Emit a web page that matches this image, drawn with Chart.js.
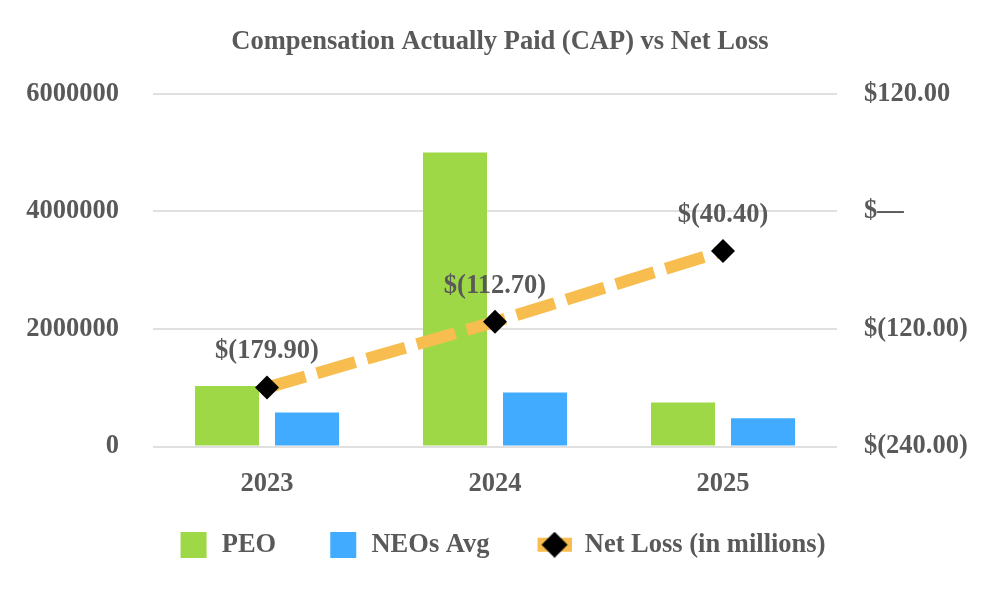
<!DOCTYPE html>
<html>
<head>
<meta charset="utf-8">
<script src="https://cdn.jsdelivr.net/npm/chart.js@4/dist/chart.umd.min.js"></script>
<style>
  html, body { margin: 0; padding: 0; background: #fff; }
  #wrap { width: 1000px; height: 600px; }
</style>
</head>
<body>
<div id="wrap"><canvas id="capChart"></canvas></div>
<script>
// chart values
const years = ["2023", "2024", "2025"];
const peoCap = [1030000, 5000000, 750000];
const neoAvgCap = [580000, 920000, 480000];
const netLoss = [-179.9, -112.7, -40.4];
const seriesNames = ["PEO", "NEOs Avg", "Net Loss (in millions)"];

const GREEN = "#9ed846";
const BLUE = "#41acff";
const ORANGE = "#f8bd4f";
const TEXT = "#595959";
const FONT = "'Liberation Serif', 'Times New Roman', serif";

function money(v) {
  if (v === 0) return "$\u2014";
  const s = Math.abs(v).toFixed(2);
  return v < 0 ? "$(" + s + ")" : "$" + s;
}

// legend swatches as small canvases (transparent left part gives the item spacing)
function swatch(color) {
  const c = document.createElement("canvas");
  c.width = 54; c.height = 26;
  const g = c.getContext("2d");
  g.fillStyle = color;
  g.fillRect(26, 0, 26, 26);
  return c;
}
function lineSwatch() {
  const c = document.createElement("canvas");
  c.width = 54; c.height = 26;
  const g = c.getContext("2d");
  g.fillStyle = ORANGE;
  g.fillRect(20, 6, 34, 14);
  g.fillStyle = "#000";
  g.beginPath();
  g.moveTo(37, 0); g.lineTo(50, 13); g.lineTo(37, 26); g.lineTo(24, 13);
  g.closePath();
  g.fill();
  return c;
}
const legendIcons = [swatch(GREEN), swatch(BLUE), lineSwatch()];

// value labels above the net loss markers, and a small legend nudge
const pointLabels = {
  id: "pointLabels",
  afterLayout(chart) {
    chart.legend.left -= 10;
    chart.legend.right -= 10;
  },
  afterDatasetsDraw(chart) {
    const meta = chart.getDatasetMeta(2);
    const ctx = chart.ctx;
    ctx.save();
    ctx.font = "bold 26.5px " + FONT;
    ctx.fillStyle = TEXT;
    ctx.textAlign = "center";
    ctx.textBaseline = "middle";
    meta.data.forEach((pt, i) => {
      ctx.fillText(money(netLoss[i]), pt.x, pt.y - 36);
    });
    ctx.restore();
  }
};

Chart.defaults.font.family = FONT;
Chart.defaults.font.size = 26.5;
Chart.defaults.font.weight = "bold";
Chart.defaults.color = TEXT;

const ctx = document.getElementById("capChart").getContext("2d");
new Chart(ctx, {
  data: {
    labels: years,
    datasets: [
      {
        type: "bar",
        label: seriesNames[0],
        data: peoCap,
        backgroundColor: GREEN,
        yAxisID: "y",
        order: 1,
        barPercentage: 0.8,
        categoryPercentage: 0.702,
      },
      {
        type: "bar",
        label: seriesNames[1],
        data: neoAvgCap,
        backgroundColor: BLUE,
        yAxisID: "y",
        order: 1,
        barPercentage: 0.8,
        categoryPercentage: 0.702,
      },
      {
        type: "line",
        label: seriesNames[2],
        data: netLoss,
        yAxisID: "y1",
        order: 0,
        borderColor: ORANGE,
        borderWidth: 12,
        borderDash: [40, 12],
        borderCapStyle: "butt",
        pointStyle: "rectRot",
        pointRadius: 12,
        pointBackgroundColor: "#000",
        pointBorderColor: "#000",
        pointBorderWidth: 0,
        tension: 0,
      },
    ],
  },
  options: {
    responsive: true,
    maintainAspectRatio: false,
    animation: false,
    layout: {
      padding: { left: 0, right: 0, top: 0, bottom: 32 },
    },
    plugins: {
      title: {
        display: true,
        text: "Compensation Actually Paid (CAP) vs Net Loss",
        color: TEXT,
        font: { size: 26.5, weight: "bold" },
        padding: { top: 26, bottom: 36 },
      },
      legend: {
        position: "bottom",
        labels: {
          usePointStyle: true,
          pointStyleWidth: 54,
          boxHeight: 26,
          padding: 28,
          color: TEXT,
          font: { size: 26.5, weight: "bold" },
          generateLabels: () => seriesNames.map((name, i) => ({
            text: name,
            pointStyle: legendIcons[i],
            fillStyle: "transparent",
            strokeStyle: "transparent",
            lineWidth: 0,
            fontColor: TEXT,
            datasetIndex: i,
            hidden: false,
          })),
        },
      },
      tooltip: { enabled: false },
    },
    scales: {
      x: {
        grid: { display: false },
        border: { display: false },
        ticks: { padding: 14 },
        afterFit: (scale) => { scale.height = 57; },
      },
      y: {
        position: "left",
        min: 0,
        max: 6000000,
        ticks: {
          stepSize: 2000000,
          padding: 34,
          callback: (v) => String(v),
        },
        grid: { color: "#e0e0e0", lineWidth: 2, drawTicks: false },
        border: { display: false },
        afterFit: (scale) => { scale.width = 153; },
      },
      y1: {
        position: "right",
        min: -240,
        max: 120,
        ticks: {
          stepSize: 120,
          padding: 27,
          callback: (v) => money(v),
        },
        grid: { display: false, drawTicks: false },
        border: { display: false },
        afterFit: (scale) => { scale.width = 163; },
      },
    },
  },
  plugins: [pointLabels],
});
</script>
</body>
</html>
